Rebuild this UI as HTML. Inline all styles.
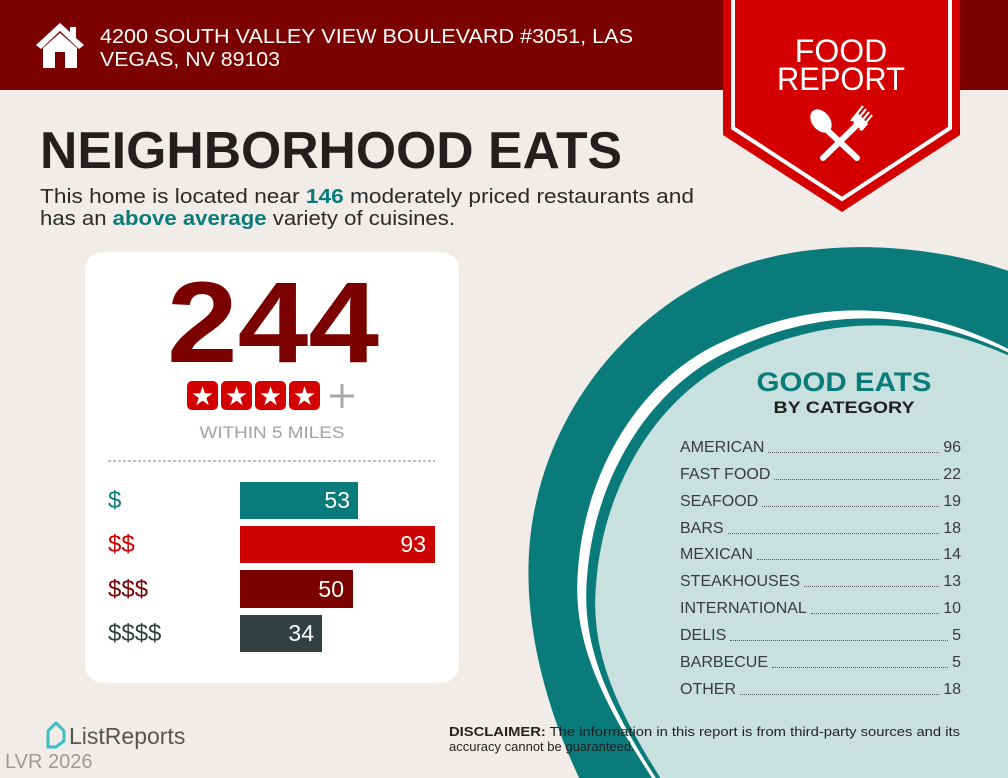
<!DOCTYPE html>
<html><head><meta charset="utf-8"><style>
html,body{margin:0;padding:0;}
body{width:1008px;height:778px;position:relative;overflow:hidden;background:#f1ece8;font-family:"Liberation Sans",sans-serif;}
.abs{position:absolute;}
.row{position:absolute;left:680px;width:281px;display:flex;align-items:flex-end;font-size:16px;color:#3a3a3a;height:20px;}
.row .d{flex:1;border-bottom:1.5px dotted #555;margin:0 4px 4px 4px;}
</style></head><body>
<svg class="abs" style="left:0;top:0" width="1008" height="778" viewBox="0 0 1008 778">
  <rect x="0" y="0" width="1008" height="90" fill="#7b0000"/>
  <!-- house -->
  <path d="M60 23 L36 45 L41 49 L60 31 L79 49 L84 45 L76 38 L76 27 L70 27 L70 32 Z" fill="#fff"/>
  <path d="M43 48 L60 33 L77 48 L77 68 L65 68 L65 52 L55 52 L55 68 L43 68 Z" fill="#fff"/>
  <text x="100" y="43" font-size="20" fill="#fff" textLength="533" lengthAdjust="spacingAndGlyphs">4200 SOUTH VALLEY VIEW BOULEVARD #3051, LAS</text>
  <text x="100" y="66" font-size="20" fill="#fff" textLength="180" lengthAdjust="spacingAndGlyphs">VEGAS, NV 89103</text>
  <!-- banner -->
  <polygon points="723,0 960,0 960,135 842,212 723,135" fill="#d40000"/>
  <polyline points="733,0 733,128 842,199 950,128 950,0" fill="none" stroke="#fff" stroke-width="4"/>
  <text x="841" y="62" font-size="32" fill="#fff" text-anchor="middle">FOOD</text>
  <text x="841" y="90" font-size="32" fill="#fff" text-anchor="middle" textLength="128" lengthAdjust="spacingAndGlyphs">REPORT</text>
  <g fill="#fff" stroke="#fff">
    <ellipse cx="821" cy="121" rx="9" ry="13" transform="rotate(-38 821 121)" stroke="none"/>
    <line x1="827" y1="130" x2="857" y2="158" stroke-width="6" stroke-linecap="round"/>
    <line x1="860" y1="122" x2="823" y2="158" stroke-width="6" stroke-linecap="round"/>
    <path d="M854 124 L866 109 M857 127 L869 112 M860 130 L872 115 M851 121 L863 106" stroke-width="2.2" fill="none"/>
    <path d="M852 120 L862 131 L868 124 L858 113 Z" stroke="none"/>
  </g>
  <!-- title -->
  <text x="40" y="168" font-size="52" font-weight="bold" fill="#231f1f" textLength="582" lengthAdjust="spacingAndGlyphs">NEIGHBORHOOD EATS</text>
  <text x="40" y="203" font-size="20" fill="#2a2a2a" textLength="654" lengthAdjust="spacingAndGlyphs">This home is located near <tspan font-weight="bold" fill="#0a7b7b">146</tspan> moderately priced restaurants and</text>
  <text x="40" y="225" font-size="20" fill="#2a2a2a" textLength="415" lengthAdjust="spacingAndGlyphs">has an <tspan font-weight="bold" fill="#0a7b7b">above average</tspan> variety of cuisines.</text>
  <!-- plate -->
  <path d="M585 790 C545 710,522 620,530 540 C542 420,620 320,720 274 C800 238,920 238,1020 275 L1020 790 Z" fill="#0a7b7b"/>
  <path d="M660 790 C600 700,572 640,578 570 C585 470,640 380,720 343 C800 305,900 290,1020 355 L1020 790 Z" fill="#fff"/>
  <path d="M660 790 C600 700,572 640,578 570 C585 470,640 380,720 343 C800 305,900 290,1020 355 L1020 790 Z" fill="#0a7b7b" transform="translate(9,8)"/>
  <path d="M660 790 C600 700,572 640,578 570 C585 470,640 380,720 343 C800 305,900 290,1020 355 L1020 790 Z" fill="#c8e1de" transform="translate(18,15)"/>
  <text x="844" y="391" font-size="27" font-weight="bold" fill="#0a7b7b" text-anchor="middle" textLength="175" lengthAdjust="spacingAndGlyphs">GOOD EATS</text>
  <text x="844" y="413" font-size="17" font-weight="bold" fill="#231f1f" text-anchor="middle" textLength="141" lengthAdjust="spacingAndGlyphs">BY CATEGORY</text>
  <!-- card -->
  <rect x="85" y="252" width="374" height="431" rx="18" fill="#fff"/>
  <text x="273" y="362" font-size="115" font-weight="bold" fill="#7b0000" text-anchor="middle" textLength="212" lengthAdjust="spacingAndGlyphs">244</text>
  <g>
    <rect x="187" y="381" width="31" height="29" rx="5" fill="#d40000"/>
    <rect x="221" y="381" width="31" height="29" rx="5" fill="#d40000"/>
    <rect x="255" y="381" width="31" height="29" rx="5" fill="#d40000"/>
    <rect x="289" y="381" width="31" height="29" rx="5" fill="#d40000"/>
    <g fill="#fff" font-size="26" text-anchor="middle">
      <text x="202.5" y="405">★</text><text x="236.5" y="405">★</text><text x="270.5" y="405">★</text><text x="304.5" y="405">★</text>
    </g>
    <path d="M342 384 V408 M330 396 H354" stroke="#a8a8a8" stroke-width="3"/>
  </g>
  <text x="272" y="438" font-size="17" fill="#a0a0a0" text-anchor="middle" textLength="145" lengthAdjust="spacingAndGlyphs">WITHIN 5 MILES</text>
  <line x1="108" y1="461" x2="435" y2="461" stroke="#aaa" stroke-width="1.5" stroke-dasharray="3,2"/>
  <rect x="240" y="482" width="118" height="37" fill="#0a7b7b"/>
  <rect x="240" y="526" width="195" height="37" fill="#cc0000"/>
  <rect x="240" y="570" width="113" height="38" fill="#7b0000"/>
  <rect x="240" y="615" width="82" height="37" fill="#334040"/>
  <g font-size="23" fill="#fff" text-anchor="end">
    <text x="350" y="508">53</text><text x="426" y="552">93</text><text x="344" y="597">50</text><text x="314" y="641">34</text>
  </g>
  <g font-size="24">
    <text x="108" y="508" fill="#0a7b7b">$</text>
    <text x="108" y="552" fill="#cc0000">$$</text>
    <text x="108" y="597" fill="#7b0000">$$$</text>
    <text x="108" y="641" fill="#334040">$$$$</text>
  </g>
  <!-- footer -->
  <path d="M48 731 L56 723 L64 731 L64 741 L56 747 L48 747 Z" fill="none" stroke="#3bbfc0" stroke-width="3"/>
  <text x="69" y="744" font-size="23" fill="#555">ListReports</text>
  <text x="5" y="768" font-size="20" fill="#9a9a9a">LVR 2026</text>
  <text x="449" y="736" font-size="13" fill="#231f1f" textLength="511" lengthAdjust="spacingAndGlyphs"><tspan font-weight="bold">DISCLAIMER:</tspan> The information in this report is from third-party sources and its</text>
  <text x="449" y="751" font-size="13" fill="#231f1f">accuracy cannot be guaranteed.</text>
</svg>
<div class="row" style="top:437px"><span>AMERICAN</span><span class="d"></span><span>96</span></div>
<div class="row" style="top:464px"><span>FAST FOOD</span><span class="d"></span><span>22</span></div>
<div class="row" style="top:491px"><span>SEAFOOD</span><span class="d"></span><span>19</span></div>
<div class="row" style="top:518px"><span>BARS</span><span class="d"></span><span>18</span></div>
<div class="row" style="top:544px"><span>MEXICAN</span><span class="d"></span><span>14</span></div>
<div class="row" style="top:571px"><span>STEAKHOUSES</span><span class="d"></span><span>13</span></div>
<div class="row" style="top:598px"><span>INTERNATIONAL</span><span class="d"></span><span>10</span></div>
<div class="row" style="top:625px"><span>DELIS</span><span class="d"></span><span>5</span></div>
<div class="row" style="top:652px"><span>BARBECUE</span><span class="d"></span><span>5</span></div>
<div class="row" style="top:679px"><span>OTHER</span><span class="d"></span><span>18</span></div>
</body></html>
